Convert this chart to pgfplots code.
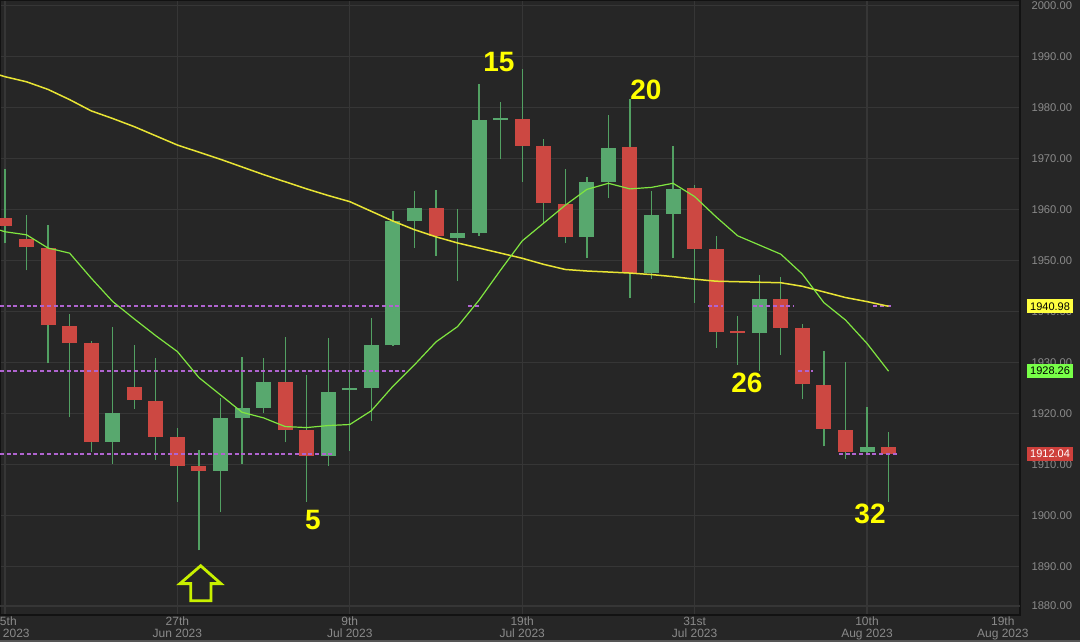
\documentclass[border=0pt]{standalone}
\usepackage{pgfplots}
\usepackage{pgfplotstable}
\pgfplotsset{compat=1.18}
\usepackage{fontspec}
\setmainfont{Liberation Sans}
\definecolor{bg}{RGB}{38,38,38}
\definecolor{gridc}{RGB}{54,54,54}
\definecolor{borderc}{RGB}{18,18,18}
\definecolor{tickc}{RGB}{138,138,138}
\definecolor{cred}{RGB}{204,72,66}
\definecolor{cgreen}{RGB}{88,168,110}
\definecolor{wick}{RGB}{82,160,98}
\definecolor{maY}{RGB}{232,228,52}
\definecolor{maG}{RGB}{128,230,64}
\definecolor{lav}{RGB}{176,100,208}
\definecolor{annY}{RGB}{255,255,0}
\definecolor{arrowc}{RGB}{200,240,0}
\definecolor{boxY}{RGB}{255,255,64}
\definecolor{boxG}{RGB}{120,255,72}
\definecolor{boxR}{RGB}{206,64,60}
\definecolor{stripc}{RGB}{85,85,85}

% rising candles
\pgfplotstableread{
x O H L C
5 1914.4 1937.0 1910.1 1920.1
10 1908.7 1923.0 1900.6 1919.0
11 1919.1 1931.0 1910.1 1921.0
12 1921.1 1930.8 1920.0 1926.2
15 1911.6 1934.7 1909.7 1924.2
16 1924.5 1928.2 1912.7 1925.0
17 1925.0 1938.6 1918.5 1933.3
18 1933.3 1959.7 1933.1 1957.7
19 1957.8 1963.6 1952.5 1960.2
21 1954.4 1960.0 1945.9 1955.4
22 1955.4 1984.6 1954.8 1977.6
23 1977.6 1981.1 1969.9 1977.9
27 1954.6 1966.4 1950.5 1965.4
28 1965.4 1978.5 1962.2 1972.0
30 1947.6 1963.6 1946.3 1958.9
31 1959.1 1972.4 1950.5 1964.0
35 1935.8 1947.1 1928.2 1942.4
40 1912.5 1921.2 1911.8 1913.3
}\upT

% falling candles
\pgfplotstableread{
x O H L C
0 1958.2 1967.9 1953.3 1956.7
1 1954.1 1958.9 1948.0 1952.7
2 1952.5 1956.9 1929.8 1937.3
3 1937.2 1939.5 1919.2 1933.8
4 1933.7 1934.2 1912.5 1914.4
6 1925.1 1933.4 1920.8 1922.6
7 1922.5 1930.8 1910.8 1915.4
8 1915.4 1917.1 1902.7 1909.7
9 1909.6 1912.9 1893.1 1908.7
13 1926.2 1935.0 1914.3 1916.7
14 1916.7 1927.5 1902.7 1911.6
20 1960.2 1963.8 1950.8 1954.8
24 1977.8 1987.5 1965.4 1972.5
25 1972.4 1973.8 1957.1 1961.3
26 1961.0 1967.9 1953.3 1954.6
29 1972.2 1981.6 1942.7 1947.6
32 1964.1 1964.8 1941.6 1952.2
33 1952.2 1954.8 1932.9 1936.0
34 1936.1 1939.1 1929.5 1935.7
36 1942.4 1946.8 1931.4 1936.8
37 1936.7 1937.5 1922.8 1925.7
38 1925.5 1932.3 1913.5 1916.9
39 1916.7 1930.1 1911.0 1912.5
41 1913.3 1916.4 1902.7 1912.04
}\downT

\begin{document}
\begin{tikzpicture}
\fill[bg] (0pt,-27pt) rectangle (1080pt,615pt);
\fill[stripc] (0pt,-27pt) rectangle (1080pt,-25pt);
\begin{axis}[
  at={(0pt,0pt)}, anchor=south west,
  scale only axis, width=1020pt, height=615pt,
  xmin=-0.232, xmax=47.1, ymin=1880.45, ymax=2001.04,
  axis background/.style={fill=bg},
  axis line style={draw=borderc, line width=1.2pt},
  grid=major, major grid style={draw=gridc, line width=1.2pt},
  major tick length=0pt,
  ytick={1890,1900,1910,1920,1930,1940,1950,1960,1970,1980,1990,2000},
  yticklabels={1890.00,1900.00,1910.00,1920.00,1930.00,1940.00,1950.00,1960.00,1970.00,1980.00,1990.00,2000.00},
  extra y ticks={1882.2}, extra y tick labels={1880.00},
  yticklabel pos=right,
  yticklabel style={anchor=west, xshift=8pt, font=\fontsize{11.2}{12}\selectfont},
  xtick={0,8,16,24,32,40},
  xticklabels={15th\\Jun 2023,27th\\Jun 2023,9th\\Jul 2023,19th\\Jul 2023,31st\\Jul 2023,10th\\Aug 2023},
  extra x ticks={46.3}, extra x tick labels={19th\\Aug 2023},
  extra x tick style={grid=none},
  xticklabel style={align=center, inner sep=0pt, yshift=-2pt, font=\fontsize{12}{11.5}\selectfont},
  tick label style={text=tickc},
  clip=false,
]
% wicks
\addplot[draw=none, forget plot, error bars/.cd, y dir=plus, y explicit, error mark=none,
  error bar style={draw=wick, line width=1.3pt}]
  table[x=x, y=L, y error expr=\thisrow{H}-\thisrow{L}] {\upT};
\addplot[draw=none, forget plot, error bars/.cd, y dir=plus, y explicit, error mark=none,
  error bar style={draw=wick, line width=1.3pt}]
  table[x=x, y=L, y error expr=\thisrow{H}-\thisrow{L}] {\downT};
% bodies
\addplot[draw=none, forget plot, error bars/.cd, y dir=plus, y explicit, error mark=none,
  error bar style={draw=cgreen, line width=15pt}]
  table[x=x, y=O, y error expr=\thisrow{C}-\thisrow{O}] {\upT};
\addplot[draw=none, forget plot, error bars/.cd, y dir=plus, y explicit, error mark=none,
  error bar style={draw=cred, line width=15pt}]
  table[x=x, y=C, y error expr=\thisrow{O}-\thisrow{C}] {\downT};

% dashed price levels
\addplot[lav, line width=1.6pt, dash pattern=on 4pt off 2.7pt, forget plot] coordinates {(-0.232,1940.98) (18.33,1940.98)};
\addplot[lav, line width=1.6pt, dash pattern=on 4pt off 2.7pt, forget plot] coordinates {(21.5,1940.98) (22.0,1940.98)};
\addplot[lav, line width=1.6pt, dash pattern=on 4pt off 2.7pt, forget plot] coordinates {(32.6,1940.98) (33.3,1940.98)};
\addplot[lav, line width=1.6pt, dash pattern=on 4pt off 2.7pt, forget plot] coordinates {(34.7,1940.98) (36.6,1940.98)};
\addplot[lav, line width=1.6pt, dash pattern=on 4pt off 2.7pt, forget plot] coordinates {(40.3,1940.98) (41.2,1940.98)};
\addplot[lav, line width=1.6pt, dash pattern=on 4pt off 2.7pt, forget plot] coordinates {(-0.232,1928.26) (18.56,1928.26)};
\addplot[lav, line width=1.6pt, dash pattern=on 4pt off 2.7pt, forget plot] coordinates {(36.8,1928.26) (37.5,1928.26)};
\addplot[lav, line width=1.6pt, dash pattern=on 4pt off 2.7pt, forget plot] coordinates {(-0.232,1912.04) (15.3,1912.04)};
\addplot[lav, line width=1.6pt, dash pattern=on 4pt off 2.7pt, forget plot] coordinates {(38.7,1912.04) (41.4,1912.04)};

% slow moving average
\addplot[maY, line width=1.5pt, forget plot] coordinates {
(-0.232,1986.3) (0,1986.0) (1,1985.0) (2,1983.5) (3,1981.5) (4,1979.3) (5,1977.8) (6,1976.2)
(7,1974.4) (8,1972.6) (9,1971.2) (10,1969.8) (11,1968.3) (12,1966.8) (13,1965.4) (14,1964.0)
(15,1962.7) (16,1961.5) (17,1959.6) (18,1957.7) (19,1956.0) (20,1954.6) (21,1953.4) (22,1952.4)
(23,1951.4) (24,1950.4) (25,1949.2) (26,1948.2) (27,1947.9) (28,1947.7) (29,1947.5) (30,1947.2)
(31,1946.8) (32,1946.3) (33,1945.9) (34,1945.8) (35,1945.7) (36,1945.6) (37,1944.9) (38,1943.8)
(39,1942.7) (40,1941.9) (41,1940.98)};
% fast moving average
\addplot[maG, line width=1.2pt, forget plot] coordinates {
(-0.232,1955.9) (0,1955.6) (1,1955.0) (2,1952.4) (3,1951.4) (4,1946.5) (5,1941.9) (6,1938.5)
(7,1935.2) (8,1932.1) (9,1927.0) (10,1923.6) (11,1920.2) (12,1919.1) (13,1917.4) (14,1917.2)
(15,1917.6) (16,1917.8) (17,1920.5) (18,1925.3) (19,1929.5) (20,1934.0) (21,1937.0) (22,1942.2)
(23,1948.1) (24,1953.8) (25,1957.3) (26,1960.8) (27,1963.9) (28,1965.1) (29,1964.0) (30,1964.3)
(31,1965.1) (32,1962.5) (33,1958.5) (34,1954.8) (35,1953.0) (36,1951.2) (37,1947.3) (38,1941.7)
(39,1938.3) (40,1933.7) (41,1928.26)};

% annotations
\node[text=annY, font=\fontsize{28}{28}\selectfont\bfseries] at (axis cs:22.92,1988.9) {15};
\node[text=annY, font=\fontsize{28}{28}\selectfont\bfseries] at (axis cs:29.74,1983.4) {20};
\node[text=annY, font=\fontsize{28}{28}\selectfont\bfseries] at (axis cs:14.29,1899.1) {5};
\node[text=annY, font=\fontsize{28}{28}\selectfont\bfseries] at (axis cs:34.43,1925.9) {26};
\node[text=annY, font=\fontsize{28}{28}\selectfont\bfseries] at (axis cs:40.14,1900.2) {32};

\draw[arrowc, line width=2.8pt, line join=miter]
  (axis cs:9.08,1890.1) -- (axis cs:10.02,1886.6) -- (axis cs:9.56,1886.6) -- (axis cs:9.56,1883.25)
  -- (axis cs:8.62,1883.25) -- (axis cs:8.62,1886.6) -- (axis cs:8.12,1886.6) -- cycle;

% value boxes
\node[fill=boxY, text=black, anchor=west, inner xsep=3pt, inner ysep=0pt, minimum height=14pt,
  font=\fontsize{11}{11}\selectfont] at (axis cs:47.1,1940.98) [xshift=7pt] {1940.98};
\node[fill=boxG, text=black, anchor=west, inner xsep=3pt, inner ysep=0pt, minimum height=14pt,
  font=\fontsize{11}{11}\selectfont] at (axis cs:47.1,1928.26) [xshift=7pt] {1928.26};
\node[fill=boxR, text=white, anchor=west, inner xsep=3pt, inner ysep=0pt, minimum height=14pt,
  font=\fontsize{11}{11}\selectfont] at (axis cs:47.1,1912.04) [xshift=7pt] {1912.04};
\end{axis}
\pgfresetboundingbox
\useasboundingbox (0pt,-27pt) rectangle (1080pt,615pt);
\end{tikzpicture}
\end{document}
